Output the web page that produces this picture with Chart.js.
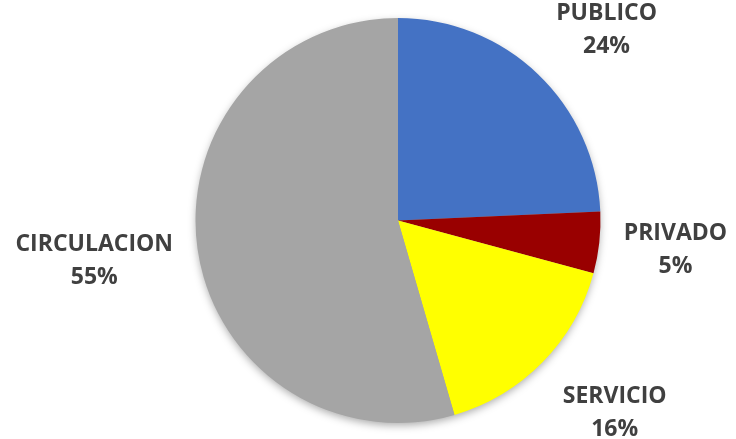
<!DOCTYPE html>
<html lang="es">
<head>
    <meta charset="UTF-8">
    <title>Distribucion de areas</title>
    <script src="https://cdn.jsdelivr.net/npm/chart.js"></script>
    <style>
        html, body { margin: 0; padding: 0; background: #fff; }
        canvas { display: block; }
    </style>
</head>
<body>
    <canvas id="pieChart" width="736" height="439"></canvas>

    <script>
        // datos (porcentaje estimado por el angulo de cada sector)
        const categorias = ['PUBLICO', 'PRIVADO', 'SERVICIO', 'CIRCULACION'];
        const porcentajes = [24.3, 4.9, 16.3, 54.5];
        const colores = ['#4472C4', '#990000', '#FFFF00', '#A5A5A5'];

        // posicion de cada etiqueta relativa al centro, en unidades de radio
        const etiquetaOffset = [
            [1.03, -0.945],
            [1.37, 0.145],
            [1.07, 0.95],
            [-1.50, 0.195]
        ];

        const sombra = {
            id: 'sombra',
            beforeDatasetsDraw(chart) {
                const arc = chart.getDatasetMeta(0).data[0];
                if (!arc) return;
                const ctx = chart.ctx;
                ctx.save();
                ctx.shadowColor = 'rgba(0,0,0,0.35)';
                ctx.shadowBlur = 9;
                ctx.shadowOffsetY = 3;
                ctx.beginPath();
                ctx.arc(arc.x, arc.y, arc.outerRadius - 1, 0, Math.PI * 2);
                ctx.fillStyle = '#A5A5A5';
                ctx.fill();
                ctx.restore();
            }
        };

        const etiquetas = {
            id: 'etiquetas',
            afterDatasetsDraw(chart) {
                const meta = chart.getDatasetMeta(0);
                const ctx = chart.ctx;
                ctx.save();
                ctx.font = 'bold 23px "Open Sans", sans-serif';
                ctx.fillStyle = '#404040';
                ctx.textAlign = 'center';
                ctx.textBaseline = 'middle';
                meta.data.forEach((arc, i) => {
                    const r = arc.outerRadius;
                    const x = arc.x + etiquetaOffset[i][0] * r;
                    const y = arc.y + etiquetaOffset[i][1] * r;
                    ctx.fillText(categorias[i], x, y - 16);
                    ctx.fillText(Math.round(porcentajes[i]) + '%', x, y + 17);
                });
                ctx.restore();
            }
        };

        new Chart(document.getElementById('pieChart'), {
            type: 'pie',
            data: {
                labels: categorias,
                datasets: [{
                    data: porcentajes,
                    backgroundColor: colores,
                    borderWidth: 0
                }]
            },
            options: {
                responsive: false,
                animation: false,
                layout: { padding: { top: 18, bottom: 16, left: 60, right: 0 } },
                plugins: {
                    legend: { display: false },
                    tooltip: { enabled: false }
                }
            },
            plugins: [sombra, etiquetas]
        });
    </script>
</body>
</html>
